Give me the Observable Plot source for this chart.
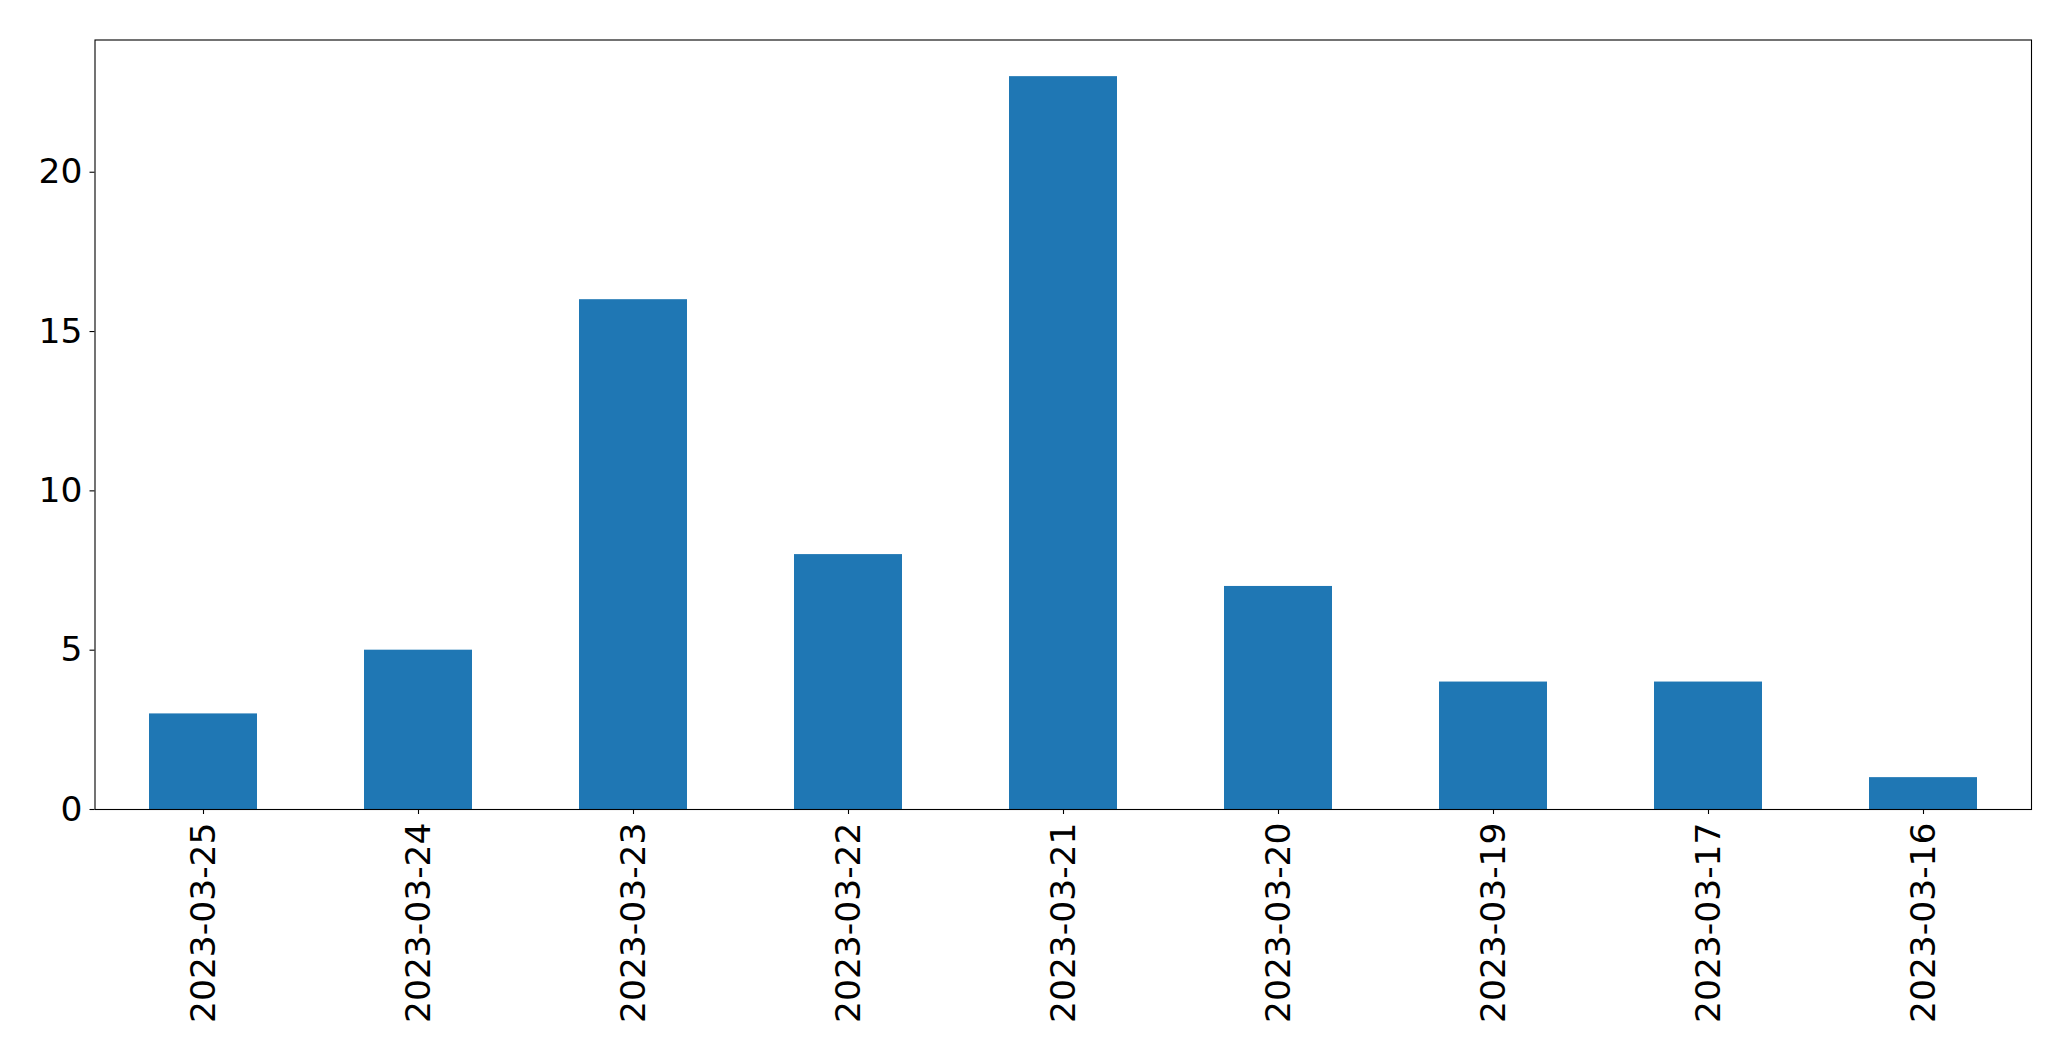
<!DOCTYPE html>
<html>
<head>
<meta charset="utf-8">
<script src="https://cdn.jsdelivr.net/npm/d3@7"></script>
<script src="https://cdn.jsdelivr.net/npm/@observablehq/plot@0.6"></script>
<style>
  html, body { margin: 0; padding: 0; background: #fff; }
  svg { display: block; }
</style>
</head>
<body>
<div id="chart"></div>
<script>
const dates = ["2023-03-25","2023-03-24","2023-03-23","2023-03-22","2023-03-21","2023-03-20","2023-03-19","2023-03-17","2023-03-16"];
const counts = [3, 5, 16, 8, 23, 7, 4, 4, 1];
const yTicks = [0, 5, 10, 15, 20];

const data = dates.map((d, i) => ({date: d, count: counts[i]}));

const chart = Plot.plot({
  width: 2071,
  height: 1061,
  marginLeft: 94.5,
  marginRight: 40,
  marginTop: 39.5,
  marginBottom: 252,
  style: {fontFamily: "DejaVu Sans", fontSize: "34.5px", color: "#000", background: "#fff"},
  x: {type: "band", domain: dates, paddingInner: 0.5, paddingOuter: 0.25, label: null},
  y: {domain: [0, 24.15], label: null},
  marks: [
    Plot.barY(data, {x: "date", y: "count", fill: "#1f77b4"}),
    Plot.axisY({ticks: yTicks, tickSize: 5, tickPadding: 7.5, fontSize: 34.5, label: null, stroke: "#000", strokeWidth: 1.1}),
    Plot.axisX({tickSize: 5, tickPadding: 8, tickRotate: -90, fontSize: 34.5, label: null, stroke: "#000", strokeWidth: 1.1}),
    Plot.frame({stroke: "#000", strokeWidth: 1.1})
  ]
});
document.getElementById("chart").appendChild(chart);
</script>
</body>
</html>
